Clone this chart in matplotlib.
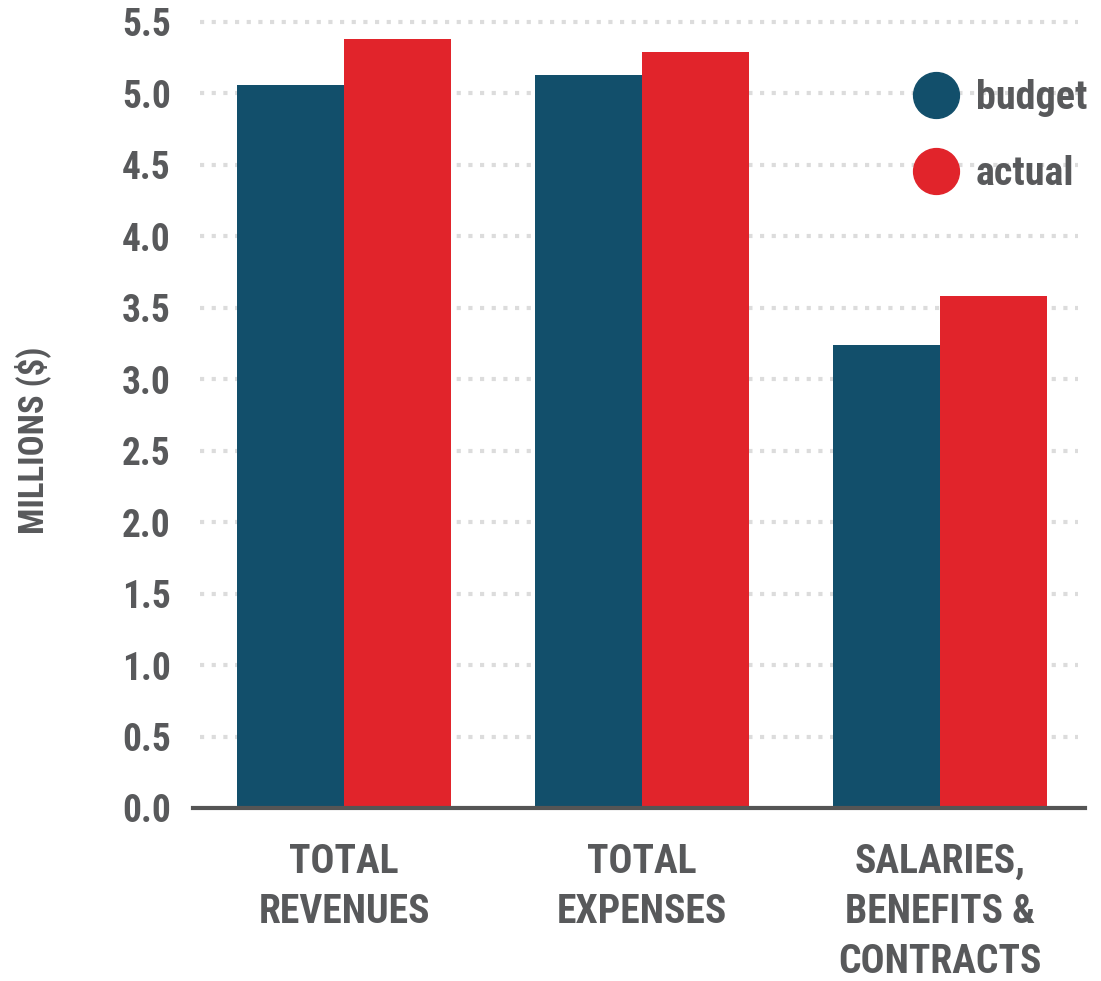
import numpy as np
import matplotlib
matplotlib.use('Agg')
import matplotlib.pyplot as plt
from matplotlib.lines import Line2D
from matplotlib import font_manager

# values (millions of dollars)
categories = ['TOTAL\nREVENUES', 'TOTAL\nEXPENSES', 'SALARIES,\nBENEFITS &\nCONTRACTS']
budget = [5.06, 5.13, 3.24]
actual = [5.38, 5.29, 3.58]
yticks = [0.0, 0.5, 1.0, 1.5, 2.0, 2.5, 3.0, 3.5, 4.0, 4.5, 5.0, 5.5]

BLUE = '#124f6b'
RED = '#e1242b'
TEXT = '#58595b'

# pick a condensed bold face if one is around
names = set(f.name for f in font_manager.fontManager.ttflist)
stretch = 'normal'
family = 'DejaVu Sans'
for cand in ['Roboto Condensed', 'Liberation Sans Narrow', 'Open Sans Condensed']:
    if cand in names:
        family = cand
        break
else:
    if any(f.name == 'DejaVu Sans' and f.stretch == 'condensed' for f in font_manager.fontManager.ttflist):
        stretch = 'condensed'

plt.rcParams['font.family'] = [family, 'DejaVu Sans']
plt.rcParams['font.weight'] = 'bold'
plt.rcParams['font.stretch'] = stretch

fig = plt.figure(figsize=(11.01, 9.81), dpi=100)
ax = fig.add_axes([193 / 1101, (981 - 808) / 981, (1085 - 193) / 1101, (808 - 22) / 981])

x = np.arange(len(categories))
w = 0.36
ax.bar(x - w / 2, budget, w, color=BLUE, zorder=3)
ax.bar(x + w / 2, actual, w, color=RED, zorder=3)

ax.set_xlim(-0.507, 2.487)
ax.set_ylim(0, 5.5)
ax.set_yticks(yticks)
ax.set_yticklabels(['%.1f' % t for t in yticks], fontsize=27, color=TEXT, fontweight='bold')
ax.set_xticks(x)
ax.set_xticklabels(categories, fontsize=28.5, color=TEXT, fontweight='bold', linespacing=1.4, va='top')
ax.tick_params(axis='both', length=0)
ax.tick_params(axis='y', pad=16)
ax.tick_params(axis='x', pad=25)

# dotted grid
for t in yticks[1:]:
    ax.plot([-0.485, 2.465], [t, t], color='#dcdcdc', lw=3, ls=(0, (1.0, 1.8)), zorder=1,
            clip_on=False, dash_capstyle='butt')

for s in ['top', 'right', 'left']:
    ax.spines[s].set_visible(False)
ax.spines['bottom'].set_color('#555555')
ax.spines['bottom'].set_linewidth(3)
ax.spines['bottom'].set_zorder(4)

fig.text(33 / 1101, 1 - 440 / 981, 'MILLIONS ($)', rotation=90, ha='center', va='center',
         fontsize=25, color=TEXT, fontweight='bold')

handles = [Line2D([], [], ls='', marker='o', ms=33, color=BLUE),
           Line2D([], [], ls='', marker='o', ms=33, color=RED)]
leg = ax.legend(handles, ['budget', 'actual'], loc='upper left', bbox_to_anchor=(0.783, 0.948),
                frameon=False, fontsize=29, labelspacing=0.95, handletextpad=0.3,
                handlelength=1.4, borderaxespad=0)
for t in leg.get_texts():
    t.set_color(TEXT)
    t.set_fontweight('bold')

fig.savefig('out.png', dpi=100)
